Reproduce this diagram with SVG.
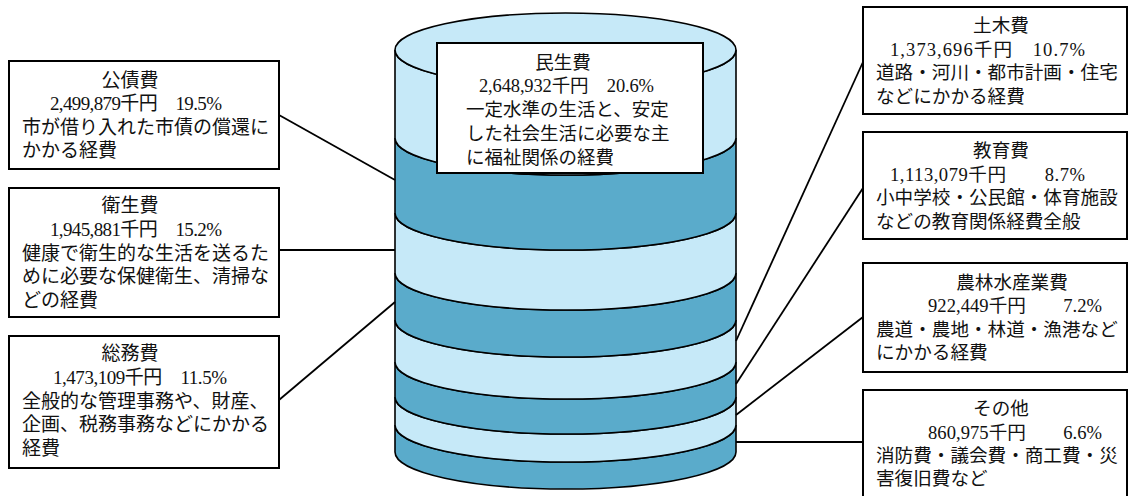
<svg xmlns="http://www.w3.org/2000/svg" width="1129" height="496" viewBox="0 0 1129 496">
<style>
.lt{fill:#c6e9f8;stroke:#000;stroke-width:1.6}
.dk{fill:#5aabcb;stroke:#000;stroke-width:1.6}
.box{fill:#fff;stroke:#000;stroke-width:2}
.cn{stroke:#000;stroke-width:1.8;fill:none}
text{font-family:"Liberation Serif","Noto Sans CJK JP",serif;fill:#111}
.l{font-size:19px}
.r{font-size:18.6px}
.c{font-size:18.5px}
.m{text-anchor:middle}
</style>
<rect width="1129" height="496" fill="#fff"/>
<g id="cylinder">
<path class="dk" d="M395,425 L395,452 A170.5,37 0 0 0 736,452 L736,425 A170.5,37 0 0 1 395,425 Z"/>
<path class="lt" d="M395,397 L395,425 A170.5,37 0 0 0 736,425 L736,397 A170.5,37 0 0 1 395,397 Z"/>
<path class="dk" d="M395,362 L395,397 A170.5,37 0 0 0 736,397 L736,362 A170.5,37 0 0 1 395,362 Z"/>
<path class="lt" d="M395,320 L395,362 A170.5,37 0 0 0 736,362 L736,320 A170.5,37 0 0 1 395,320 Z"/>
<path class="dk" d="M395,273 L395,320 A170.5,37 0 0 0 736,320 L736,273 A170.5,37 0 0 1 395,273 Z"/>
<path class="lt" d="M395,213 L395,273 A170.5,37 0 0 0 736,273 L736,213 A170.5,37 0 0 1 395,213 Z"/>
<path class="dk" d="M395,138 L395,213 A170.5,37 0 0 0 736,213 L736,138 A170.5,37 0 0 1 395,138 Z"/>
<path class="lt" d="M395,50 L395,138 A170.5,37 0 0 0 736,138 L736,50 A170.5,37 0 0 1 395,50 Z"/>
<ellipse class="lt" cx="565.5" cy="50" rx="170.5" ry="37"/>
</g>
<g id="connectors">
<line class="cn" x1="279" y1="115" x2="395" y2="180"/>
<line class="cn" x1="279" y1="250" x2="395" y2="250"/>
<line class="cn" x1="279" y1="400" x2="395" y2="302"/>
<line class="cn" x1="863" y1="62" x2="736" y2="341"/>
<line class="cn" x1="863" y1="188" x2="736" y2="384"/>
<line class="cn" x1="863" y1="317" x2="736" y2="415"/>
<line class="cn" x1="863" y1="442" x2="736" y2="442"/>
</g>
<g id="minsei">
<rect class="box" x="437" y="43" width="266" height="130"/>
<text class="c m" x="563" y="69">民生費</text>
<text class="c" x="479" y="92" textLength="175" lengthAdjust="spacing">2,648,932千円　20.6%</text>
<text class="c" x="466" y="116">一定水準の生活と、安定</text>
<text class="c" x="466" y="140">した社会生活に必要な主</text>
<text class="c" x="466" y="164">に福祉関係の経費</text>
</g>
<g id="kousai">
<rect class="box" x="9" y="61" width="270" height="108"/>
<text class="l m" x="130" y="87">公債費</text>
<text class="l" x="50" y="110" textLength="172" lengthAdjust="spacing">2,499,879千円　19.5%</text>
<text class="l" x="22" y="134">市が借り入れた市債の償還に</text>
<text class="l" x="22" y="157">かかる経費</text>
</g>
<g id="eisei">
<rect class="box" x="9" y="188" width="270" height="129"/>
<text class="l m" x="130" y="212">衛生費</text>
<text class="l" x="50" y="236" textLength="172" lengthAdjust="spacing">1,945,881千円　15.2%</text>
<text class="l" x="22" y="260">健康で衛生的な生活を送るた</text>
<text class="l" x="22" y="283">めに必要な保健衛生、清掃な</text>
<text class="l" x="22" y="307">どの経費</text>
</g>
<g id="soumu">
<rect class="box" x="9" y="336" width="270" height="132"/>
<text class="l m" x="130" y="360">総務費</text>
<text class="l" x="53" y="384" textLength="174" lengthAdjust="spacing">1,473,109千円　11.5%</text>
<text class="l" x="22" y="408">全般的な管理事務や、財産、</text>
<text class="l" x="22" y="431">企画、税務事務などにかかる</text>
<text class="l" x="22" y="455">経費</text>
</g>
<g id="doboku">
<rect class="box" x="863" y="7" width="264" height="107"/>
<text class="r m" x="1001" y="32">土木費</text>
<text class="r" x="890" y="55.5" textLength="195" lengthAdjust="spacing">1,373,696千円　10.7%</text>
<text class="r" x="876" y="79">道路・河川・都市計画・住宅</text>
<text class="r" x="876" y="103">などにかかる経費</text>
</g>
<g id="kyouiku">
<rect class="box" x="863" y="132" width="264" height="107"/>
<text class="r m" x="1001" y="157">教育費</text>
<text class="r" x="890" y="180.5" textLength="195" lengthAdjust="spacing">1,113,079千円　　8.7%</text>
<text class="r" x="876" y="204">小中学校・公民館・体育施設</text>
<text class="r" x="876" y="227.5">などの教育関係経費全般</text>
</g>
<g id="nourin">
<rect class="box" x="863" y="263" width="264" height="109"/>
<text class="r m" x="1012" y="289">農林水産業費</text>
<text class="r" x="928" y="312" textLength="174" lengthAdjust="spacing">922,449千円　　7.2%</text>
<text class="r" x="876" y="335.5">農道・農地・林道・漁港など</text>
<text class="r" x="876" y="359">にかかる経費</text>
</g>
<g id="sonota">
<rect class="box" x="863" y="390" width="264" height="112"/>
<text class="r m" x="1001" y="415">その他</text>
<text class="r" x="928" y="439" textLength="174" lengthAdjust="spacing">860,975千円　　6.6%</text>
<text class="r" x="876" y="462">消防費・議会費・商工費・災</text>
<text class="r" x="876" y="485">害復旧費など</text>
</g>
</svg>
